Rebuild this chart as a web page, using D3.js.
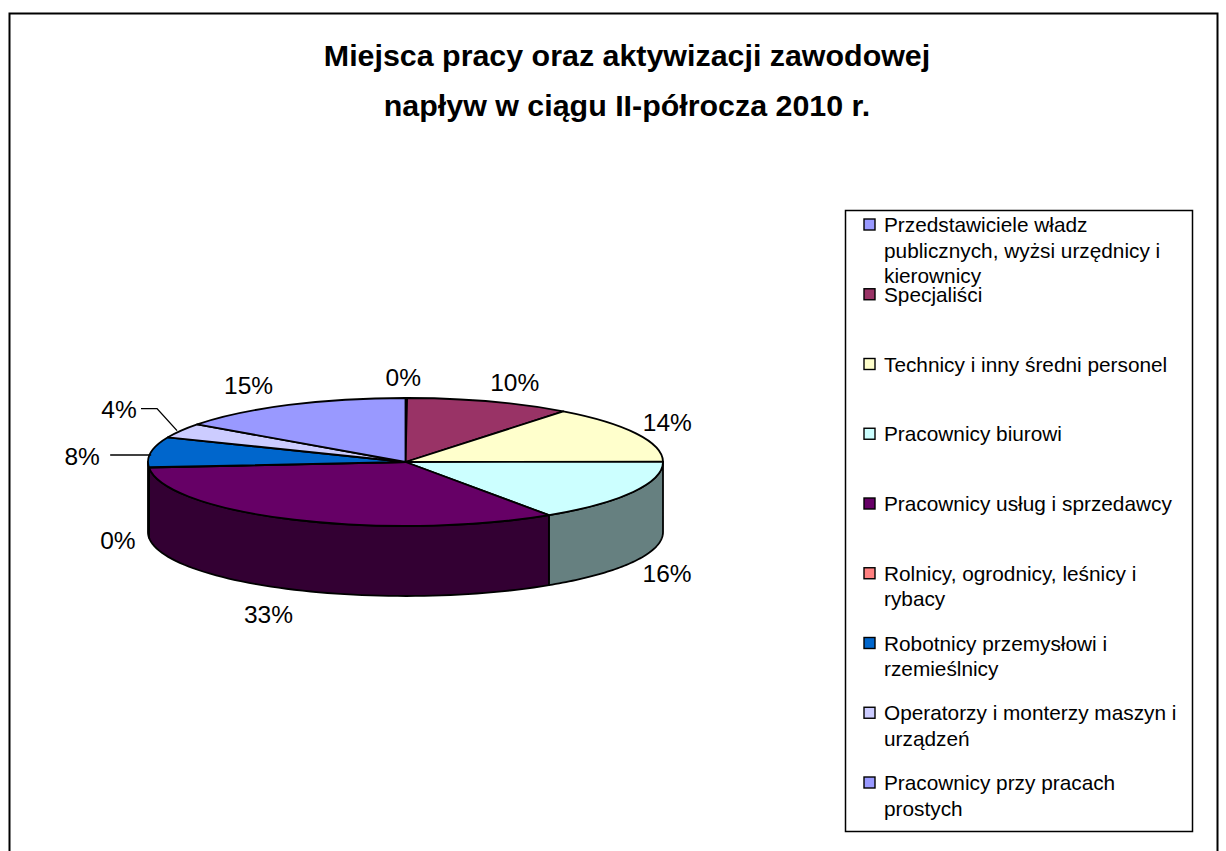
<html>
<head>
<meta charset="utf-8">
<title>Miejsca pracy oraz aktywizacji zawodowej</title>
<script src="https://d3js.org/d3.v7.min.js"></script>
<style>
    html, body { margin: 0; padding: 0; background: #fff; overflow: hidden; }
    text { font-family: "Liberation Sans", Arial, sans-serif; fill: #000; }
</style>
</head>
<body>
<div id="chart"></div>
<script type="text/javascript">
// values
var titleLines = ["Miejsca pracy oraz aktywizacji zawodowej", "napływ w ciągu II-półrocza 2010 r."];
var categories = [
    "Przedstawiciele władz publicznych, wyżsi urzędnicy i kierownicy",
    "Specjaliści",
    "Technicy i inny średni personel",
    "Pracownicy biurowi",
    "Pracownicy usług i sprzedawcy",
    "Rolnicy, ogrodnicy, leśnicy i rybacy",
    "Robotnicy przemysłowi i rzemieślnicy",
    "Operatorzy i monterzy maszyn i urządzeń",
    "Pracownicy przy pracach prostych"
];
var legendLines = [
    ["Przedstawiciele władz", "publicznych, wyżsi urzędnicy i", "kierownicy"],
    ["Specjaliści"],
    ["Technicy i inny średni personel"],
    ["Pracownicy biurowi"],
    ["Pracownicy usług i sprzedawcy"],
    ["Rolnicy, ogrodnicy, leśnicy i", "rybacy"],
    ["Robotnicy przemysłowi i", "rzemieślnicy"],
    ["Operatorzy i monterzy maszyn i", "urządzeń"],
    ["Pracownicy przy pracach", "prostych"]
];
var values = [0.1, 10.4, 14.4, 15.7, 33, 0.1, 7.6, 3.7, 15];
var colors = ["#9999FF", "#993366", "#FFFFCC", "#CCFFFF", "#660066", "#FF8080", "#0066CC", "#CCCCFF", "#9999FF"];

// label placement relative to the slice rim
var labelShift = [[-3, -21], [25, -19], [31, -11], [34, 11], [-26, 24], [-31, 3], [-69, 4], [-62, -21], [-40, -20]];

var width = 1226, height = 851;
var cx = 405.5, cy = 462, rx = 257.5, ry = 64, depth = 70;

var svg = d3.select("#chart").append("svg")
    .attr("width", width)
    .attr("height", height)
    .style("display", "block");

// outer chart frame, runs off the bottom of the page
svg.append("rect")
    .attr("x", 9.5).attr("y", 13.5)
    .attr("width", 1208).attr("height", 900)
    .attr("fill", "#fff").attr("stroke", "#000").attr("stroke-width", 2);

svg.append("g").selectAll("text")
    .data(titleLines)
    .enter().append("text")
    .attr("x", 627)
    .attr("y", function (d, i) { return 66 + i * 50; })
    .attr("text-anchor", "middle")
    .style("font-size", "30.4px")
    .style("font-weight", "bold")
    .text(function (d) { return d; });

var pie = d3.pie().sort(null).value(function (d) { return d; });
var arcs = pie(values);

function rimX(a) { return cx + rx * Math.sin(a); }
function rimY(a) { return cy - ry * Math.cos(a); }

function darker(c) {
    var r = d3.rgb(c);
    return d3.rgb(r.r / 2, r.g / 2, r.b / 2).formatHex();
}

// side wall: only the part of the rim that faces the viewer
var side = svg.append("g");
arcs.forEach(function (d, i) {
    var a0 = Math.max(d.startAngle, Math.PI / 2);
    var a1 = Math.min(d.endAngle, 3 * Math.PI / 2);
    if (a1 <= a0) return;
    var angles = d3.range(0, 61).map(function (k) { return a0 + (a1 - a0) * k / 60; });
    var pts = angles.map(function (a) { return [rimX(a), rimY(a)]; })
        .concat(angles.slice().reverse().map(function (a) { return [rimX(a), rimY(a) + depth]; }));
    side.append("path")
        .attr("d", d3.line()(pts) + "Z")
        .attr("fill", darker(colors[i]))
        .attr("stroke", "#000")
        .attr("stroke-width", 1.8)
        .attr("stroke-linejoin", "round");
});

// top face, a flat pie squashed into the ellipse
var arc = d3.arc().innerRadius(0).outerRadius(rx);
svg.append("g")
    .attr("transform", "translate(" + cx + "," + cy + ") scale(1," + (ry / rx) + ")")
    .selectAll("path")
    .data(arcs)
    .enter().append("path")
    .attr("d", arc)
    .attr("fill", function (d, i) { return colors[i]; })
    .attr("stroke", "#000")
    .attr("stroke-width", 1.8)
    .attr("stroke-linejoin", "round")
    .attr("vector-effect", "non-scaling-stroke");

function labelPoint(d, i) {
    var mid = (d.startAngle + d.endAngle) / 2;
    var front = mid > Math.PI / 2 && mid < 3 * Math.PI / 2;
    return [rimX(mid) + labelShift[i][0], rimY(mid) + (front ? depth : 0) + labelShift[i][1]];
}

var total = d3.sum(values);
svg.append("g").selectAll("text")
    .data(arcs)
    .enter().append("text")
    .attr("x", function (d, i) { return labelPoint(d, i)[0]; })
    .attr("y", function (d, i) { return labelPoint(d, i)[1]; })
    .attr("dy", "0.36em")
    .attr("text-anchor", "middle")
    .style("font-size", "24.5px")
    .text(function (d) { return Math.round(d.value / total * 100) + "%"; });

// leader lines for the two narrow slices on the left
[6, 7].forEach(function (i) {
    var d = arcs[i];
    var mid = (d.startAngle + d.endAngle) / 2;
    var p = labelPoint(d, i);
    var pts = i == 6
        ? [[p[0] + 28, p[1] - 1], [rimX(mid), p[1] - 1]]
        : [[p[0] + 22, p[1] - 1], [p[0] + 38, p[1] - 1], [rimX(mid) - 4, rimY(mid)]];
    svg.append("path")
        .attr("d", d3.line()(pts))
        .attr("fill", "none")
        .attr("stroke", "#000")
        .attr("stroke-width", 1.4);
});

// legend
var legend = svg.append("g");
legend.append("rect")
    .attr("x", 845.5).attr("y", 210.5)
    .attr("width", 347).attr("height", 621)
    .attr("fill", "#fff").attr("stroke", "#000").attr("stroke-width", 1.5);

var rowY = d3.scalePoint().domain(categories).range([225, 783]);

var rows = legend.selectAll("g.row")
    .data(categories)
    .enter().append("g")
    .attr("class", "row")
    .attr("transform", function (d) { return "translate(864," + rowY(d) + ")"; });

rows.append("rect")
    .attr("x", 0).attr("y", -6)
    .attr("width", 11).attr("height", 11)
    .attr("fill", function (d, i) { return colors[i]; })
    .attr("stroke", "#000")
    .attr("stroke-width", 1.4);

rows.each(function (d, i) {
    d3.select(this).selectAll("text")
        .data(legendLines[i])
        .enter().append("text")
        .attr("x", 20)
        .attr("y", function (t, k) { return 7 + k * 25.5; })
        .style("font-size", "20.8px")
        .text(function (t) { return t; });
});
</script>
</body>
</html>
